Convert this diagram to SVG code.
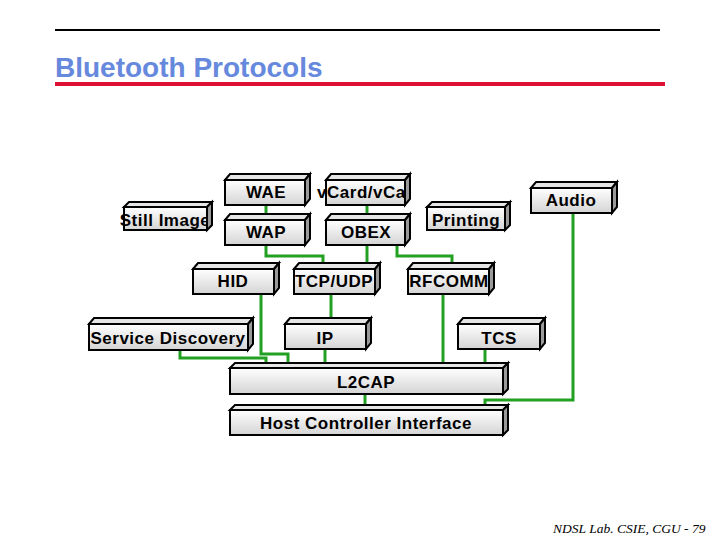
<svg xmlns="http://www.w3.org/2000/svg" width="720" height="540" viewBox="0 0 720 540">
<defs>
<linearGradient id="fg" x1="0" y1="0" x2="0" y2="1">
<stop offset="0" stop-color="#ffffff"/>
<stop offset="1" stop-color="#d4d4d4"/>
</linearGradient>
<style>
.front{fill:url(#fg);stroke:#000;stroke-width:2}
.top{fill:#e6e6e6;stroke:#000;stroke-width:2;stroke-linejoin:miter}
.side{fill:#9a9a9a;stroke:#000;stroke-width:2}
.lbl{font-family:"Liberation Sans",Arial,sans-serif;font-weight:bold;font-size:17px;letter-spacing:0.5px;fill:#000;text-anchor:middle}
.conn{fill:none;stroke:#22a022;stroke-width:3}
</style>
</defs>
<rect width="720" height="540" fill="#fff"/>
<line x1="55" y1="30" x2="660" y2="30" stroke="#000" stroke-width="2"/>
<text x="55" y="77" font-family="Liberation Sans,Arial,sans-serif" font-weight="bold" font-size="28" fill="#6688dd">Bluetooth Protocols</text>
<rect x="55" y="82" width="610" height="4" fill="#dd1133"/>
<text x="553" y="533" font-family="Liberation Serif,serif" font-style="italic" font-size="13.5" fill="#000">NDSL Lab. CSIE, CGU - 79</text>

<g id="connectors">
<path class="conn" d="M266 205V220"/>
<path class="conn" d="M367 205V220"/>
<path class="conn" d="M266 245V256H323V269"/>
<path class="conn" d="M367 245V269"/>
<path class="conn" d="M397 245V256H452V269"/>
<path class="conn" d="M573 213V400H485V410"/>
<path class="conn" d="M331 294V324"/>
<path class="conn" d="M443 294V368"/>
<path class="conn" d="M180 350V358H266V368"/>
<path class="conn" d="M261 294V354H288V368"/>
<path class="conn" d="M325 349V368"/>
<path class="conn" d="M485 349V368"/>
<path class="conn" d="M365 394V410"/>
</g>

<g id="wae">
<rect class="front" x="225" y="180" width="80" height="25"/>
<text class="lbl" x="266" y="198">WAE</text>
<polygon class="top" points="225,180 230,174 310,174 305,180"/>
<polygon class="side" points="305,180 310,174 310,199 305,205"/>
</g>
<g id="vcard">
<rect class="front" x="326" y="180" width="79" height="25"/>
<text class="lbl" x="364" y="198">vCard/vCal</text>
<polygon class="top" points="326,180 331,174 410,174 405,180"/>
<polygon class="side" points="405,180 410,174 410,199 405,205"/>
</g>
<g id="audio">
<rect class="front" x="531" y="188" width="81" height="25"/>
<text class="lbl" x="571" y="206">Audio</text>
<polygon class="top" points="531,188 536,182 617,182 612,188"/>
<polygon class="side" points="612,188 617,182 617,207 612,213"/>
</g>
<g id="stillimage">
<rect class="front" x="124" y="207" width="83" height="23"/>
<text class="lbl" x="165" y="226">Still Image</text>
<polygon class="top" points="124,207 129,202 212,202 207,207"/>
<polygon class="side" points="207,207 212,202 212,225 207,230"/>
</g>
<g id="wap">
<rect class="front" x="225" y="220" width="80" height="25"/>
<text class="lbl" x="266" y="238">WAP</text>
<polygon class="top" points="225,220 230,214 310,214 305,220"/>
<polygon class="side" points="305,220 310,214 310,239 305,245"/>
</g>
<g id="obex">
<rect class="front" x="326" y="220" width="79" height="25"/>
<text class="lbl" x="366" y="238">OBEX</text>
<polygon class="top" points="326,220 331,214 410,214 405,220"/>
<polygon class="side" points="405,220 410,214 410,239 405,245"/>
</g>
<g id="printing">
<rect class="front" x="427" y="207" width="78" height="23"/>
<text class="lbl" x="466" y="226">Printing</text>
<polygon class="top" points="427,207 432,202 510,202 505,207"/>
<polygon class="side" points="505,207 510,202 510,225 505,230"/>
</g>
<g id="hid">
<rect class="front" x="193" y="269" width="81" height="25"/>
<text class="lbl" x="233" y="287">HID</text>
<polygon class="top" points="193,269 198,263 279,263 274,269"/>
<polygon class="side" points="274,269 279,263 279,288 274,294"/>
</g>
<g id="tcpudp">
<rect class="front" x="294" y="269" width="81" height="25"/>
<text class="lbl" x="334" y="287">TCP/UDP</text>
<polygon class="top" points="294,269 299,263 380,263 375,269"/>
<polygon class="side" points="375,269 380,263 380,288 375,294"/>
</g>
<g id="rfcomm">
<rect class="front" x="408" y="269" width="81" height="25"/>
<text class="lbl" x="449" y="287">RFCOMM</text>
<polygon class="top" points="408,269 413,263 494,263 489,269"/>
<polygon class="side" points="489,269 494,263 494,288 489,294"/>
</g>
<g id="servicediscovery">
<rect class="front" x="89" y="324" width="159" height="26"/>
<text class="lbl" x="168" y="344">Service Discovery</text>
<polygon class="top" points="89,324 94,318 253,318 248,324"/>
<polygon class="side" points="248,324 253,318 253,344 248,350"/>
</g>
<g id="ip">
<rect class="front" x="285" y="324" width="81" height="25"/>
<text class="lbl" x="325" y="344">IP</text>
<polygon class="top" points="285,324 290,318 371,318 366,324"/>
<polygon class="side" points="366,324 371,318 371,343 366,349"/>
</g>
<g id="tcs">
<rect class="front" x="458" y="324" width="82" height="25"/>
<text class="lbl" x="499" y="344">TCS</text>
<polygon class="top" points="458,324 463,318 545,318 540,324"/>
<polygon class="side" points="540,324 545,318 545,343 540,349"/>
</g>
<g id="l2cap">
<rect class="front" x="230" y="368" width="273" height="26"/>
<text class="lbl" x="366" y="388">L2CAP</text>
<polygon class="top" points="230,368 235,363 508,363 503,368"/>
<polygon class="side" points="503,368 508,363 508,389 503,394"/>
</g>
<g id="hci">
<rect class="front" x="230" y="410" width="273" height="25"/>
<text class="lbl" x="366" y="429">Host Controller Interface</text>
<polygon class="top" points="230,410 235,405 508,405 503,410"/>
<polygon class="side" points="503,410 508,405 508,430 503,435"/>
</g>
</svg>
